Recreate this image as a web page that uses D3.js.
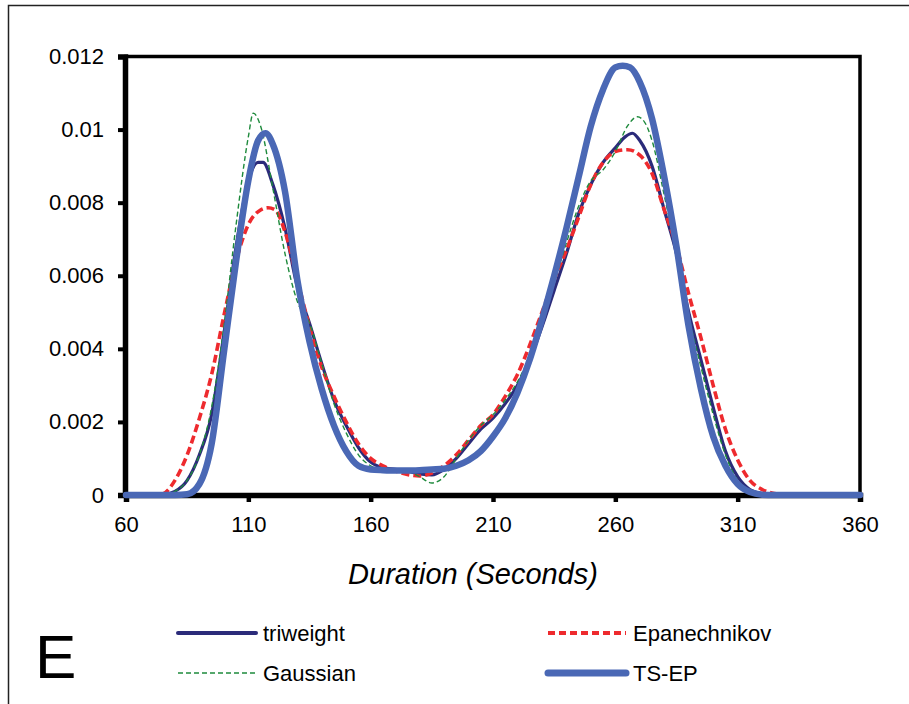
<!DOCTYPE html>
<html>
<head>
<meta charset="utf-8">
<script src="https://cdn.jsdelivr.net/npm/d3@7"></script>
<style>
  html, body { margin: 0; padding: 0; background: #fff; }
  svg { display: block; font-family: "Liberation Sans", Arial, sans-serif; }
</style>
</head>
<body>
<div id="chart"></div>
<script>
// x ticks and y ticks
const xTicks = [60, 110, 160, 210, 260, 310, 360];
const yTicks = [0, 0.002, 0.004, 0.006, 0.008, 0.01, 0.012];

// density curves, [duration, density]
const triweight = [
  [60, 0], [70, 0], [75, 0.00001], [80, 0.0001], [85, 0.0004], [90, 0.0011], [95, 0.0022],
  [100, 0.0044], [105, 0.0068], [110, 0.0086], [114, 0.0091], [116, 0.0091], [120, 0.0085],
  [125, 0.0073], [130, 0.0057], [135, 0.0047], [140, 0.0036], [145, 0.0026], [150, 0.0019],
  [155, 0.0013], [160, 0.0009], [165, 0.00075], [170, 0.0007], [175, 0.00065], [180, 0.00058],
  [185, 0.00055], [190, 0.0007], [195, 0.001], [200, 0.0014], [205, 0.0018], [210, 0.0021],
  [215, 0.0025], [220, 0.003], [225, 0.0037], [230, 0.0046], [235, 0.0056], [240, 0.0066],
  [245, 0.0077], [250, 0.0085], [255, 0.0091], [260, 0.0095], [264, 0.0098], [267, 0.0099],
  [270, 0.0097], [275, 0.009], [280, 0.0078], [285, 0.0066], [290, 0.005], [295, 0.0037],
  [300, 0.0024], [305, 0.0012], [310, 0.0005], [315, 0.00015], [320, 0.00004], [325, 0.00001],
  [330, 0], [360, 0]
];

const epanechnikov = [
  [60, 0], [70, 0], [75, 0.00003], [80, 0.0004], [85, 0.0011], [90, 0.0021], [95, 0.0033],
  [100, 0.0049], [105, 0.0064], [110, 0.0074], [115, 0.0078], [118, 0.00786], [121, 0.0078],
  [125, 0.0072], [130, 0.0059], [135, 0.0046], [140, 0.0035], [145, 0.0027], [150, 0.002],
  [155, 0.0014], [160, 0.001], [165, 0.0008], [170, 0.00066], [175, 0.00056], [180, 0.00052],
  [185, 0.0006], [190, 0.0008], [195, 0.0011], [200, 0.0015], [205, 0.0019], [210, 0.0022],
  [215, 0.0027], [220, 0.0033], [225, 0.0041], [230, 0.005], [235, 0.0059], [240, 0.0067],
  [245, 0.0076], [250, 0.0085], [255, 0.0091], [260, 0.0094], [265, 0.00945], [270, 0.0093],
  [275, 0.0088], [280, 0.0078], [285, 0.0068], [290, 0.0055], [295, 0.0043], [300, 0.003],
  [305, 0.0018], [310, 0.00096], [315, 0.0004], [320, 0.00015], [325, 0.00004], [330, 0], [360, 0]
];

const gaussian = [
  [60, 0], [70, 0], [75, 0.00001], [80, 0.0001], [85, 0.0004], [90, 0.0011], [95, 0.0024],
  [100, 0.0046], [105, 0.0074], [110, 0.0098], [112, 0.01045], [115, 0.0101], [120, 0.0084],
  [125, 0.0066], [130, 0.0053], [135, 0.0047], [140, 0.0036], [145, 0.0025], [150, 0.0017],
  [155, 0.0011], [160, 0.0008], [165, 0.0007], [170, 0.0007], [175, 0.00066], [180, 0.0005],
  [185, 0.00033], [190, 0.0005], [195, 0.001], [200, 0.0015], [205, 0.0019], [210, 0.0022],
  [215, 0.0026], [220, 0.0031], [225, 0.0038], [230, 0.0047], [235, 0.0058], [240, 0.0069],
  [245, 0.0079], [250, 0.0086], [255, 0.0089], [260, 0.0094], [265, 0.0101], [269, 0.01035],
  [272, 0.0102], [275, 0.0097], [280, 0.0082], [285, 0.0066], [290, 0.0049], [295, 0.0035],
  [300, 0.0022], [305, 0.0011], [310, 0.0004], [315, 0.0001], [320, 0.00002], [325, 0], [360, 0]
];

const tsep = [
  [60, 0], [70, 0], [80, 0], [85, 0.00002], [90, 0.0003], [95, 0.0014], [100, 0.0039],
  [105, 0.0064], [110, 0.0086], [114, 0.0097], [117, 0.0099], [120, 0.0096], [125, 0.0083],
  [130, 0.0059], [135, 0.0042], [140, 0.0029], [145, 0.0019], [150, 0.0012], [155, 0.0008],
  [160, 0.0007], [165, 0.00068], [170, 0.00067], [175, 0.00067], [180, 0.00068], [185, 0.0007],
  [190, 0.00072], [195, 0.0008], [200, 0.00095], [205, 0.0012], [210, 0.0016], [215, 0.0021],
  [220, 0.0028], [225, 0.0037], [230, 0.0048], [235, 0.006], [240, 0.0073], [245, 0.0087],
  [250, 0.0101], [255, 0.0111], [260, 0.0117], [263, 0.01175], [266, 0.0117], [270, 0.0113],
  [275, 0.0103], [280, 0.0087], [285, 0.0068], [290, 0.0046], [295, 0.0029], [300, 0.0016],
  [305, 0.0008], [310, 0.0003], [315, 0.00008], [320, 0.00001], [325, 0], [360, 0]
];

const seriesNames = ["triweight", "Epanechnikov", "Gaussian", "TS-EP"];

const width = 909, height = 704;
const plot = { left: 126, right: 860, top: 56.5, bottom: 495 };

const svg = d3.select("#chart").append("svg")
  .attr("width", width)
  .attr("height", height);

// outer border of the figure panel
svg.append("path")
  .attr("d", `M8.5,${height} L8.5,5.5 L${width},5.5`)
  .attr("fill", "none")
  .attr("stroke", "#222")
  .attr("stroke-width", 1.5);

const x = d3.scaleLinear().domain([60, 360]).range([plot.left, plot.right]);
const y = d3.scaleLinear().domain([0, 0.012]).range([plot.bottom, plot.top]);

// plot frame
svg.append("rect")
  .attr("x", plot.left)
  .attr("y", plot.top)
  .attr("width", plot.right - plot.left)
  .attr("height", plot.bottom - plot.top)
  .attr("fill", "none")
  .attr("stroke", "#000")
  .attr("stroke-width", 3.5);

// y axis
const yAxis = svg.append("g")
  .attr("transform", `translate(${plot.left - 1},0)`)
  .call(d3.axisLeft(y).tickValues(yTicks).tickSize(7).tickPadding(14)
    .tickFormat(d => d === 0 ? "0" : String(+d.toFixed(3))));
yAxis.select(".domain").attr("stroke-width", 5.5);
yAxis.selectAll(".tick line").attr("stroke-width", 4);
yAxis.selectAll("text").attr("font-size", 22).attr("fill", "#000");

// x axis
const xAxis = svg.append("g")
  .attr("transform", `translate(0,${plot.bottom})`)
  .call(d3.axisBottom(x).tickValues(xTicks).tickSize(7).tickPadding(14).tickFormat(d3.format("d")));
xAxis.select(".domain").attr("stroke-width", 5.5);
xAxis.selectAll(".tick line").attr("stroke-width", 4.5);
xAxis.selectAll("text").attr("font-size", 22).attr("fill", "#000");

svg.append("text")
  .attr("x", 473)
  .attr("y", 584)
  .attr("text-anchor", "middle")
  .attr("font-size", 29)
  .attr("font-style", "italic")
  .text("Duration (Seconds)");

// series styles
const styles = {
  "triweight": { data: triweight, color: "#2b2b7a", width: 3.2, dash: null },
  "Epanechnikov": { data: epanechnikov, color: "#ee2a2e", width: 3.6, dash: "8,4" },
  "Gaussian": { data: gaussian, color: "#1e8a3c", width: 1.4, dash: "5,3" },
  "TS-EP": { data: tsep, color: "#4a68b5", width: 6.5, dash: null }
};

const line = d3.line()
  .x(d => x(d[0]))
  .y(d => y(d[1]))
  .curve(d3.curveMonotoneX);

seriesNames.forEach(name => {
  const s = styles[name];
  svg.append("path")
    .datum(s.data)
    .attr("d", line)
    .attr("fill", "none")
    .attr("stroke", s.color)
    .attr("stroke-width", s.width)
    .attr("stroke-dasharray", s.dash)
    .attr("stroke-linejoin", "round")
    .attr("stroke-linecap", s.dash ? "butt" : "round");
});

// legend
const legendPos = {
  "triweight": [178, 633],
  "Epanechnikov": [548, 633],
  "Gaussian": [178, 673],
  "TS-EP": [548, 673]
};

seriesNames.forEach(name => {
  const s = styles[name];
  const [lx, ly] = legendPos[name];
  svg.append("line")
    .attr("x1", lx).attr("x2", lx + 78)
    .attr("y1", ly).attr("y2", ly)
    .attr("stroke", s.color)
    .attr("stroke-width", name === "TS-EP" ? 7 : name === "Gaussian" ? 1.4 : 4)
    .attr("stroke-dasharray", name === "Epanechnikov" ? "7,4" : s.dash)
    .attr("stroke-linecap", s.dash ? "butt" : "round");
  svg.append("text")
    .attr("x", lx + 85)
    .attr("y", ly + 8)
    .attr("font-size", 22)
    .text(name);
});

svg.append("text")
  .attr("x", 35)
  .attr("y", 678)
  .attr("font-size", 62)
  .text("E");
</script>
</body>
</html>
